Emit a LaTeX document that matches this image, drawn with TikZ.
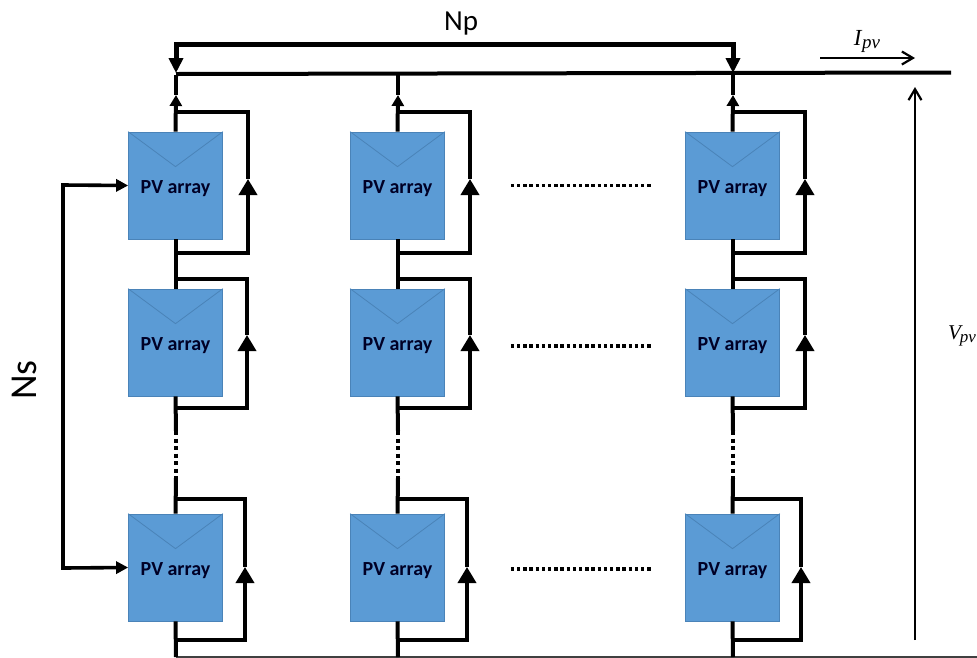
\documentclass[tikz,border=0pt]{standalone}
\usepackage{fontspec}
\setmainfont{Carlito}
\newfontfamily\mathlike{Liberation Serif}
\usetikzlibrary{arrows.meta,calc}
\definecolor{pvblue}{HTML}{5B9BD5}
\definecolor{pvedge}{HTML}{4A83B8}
\tikzset{
  pvbox/.style={draw=pvedge,line width=0.7pt,fill=pvblue,minimum width=94pt,minimum height=107pt,inner sep=0pt,font=\bfseries\fontsize{20}{22}\selectfont,text=black!85!blue,text height=20pt,text depth=5pt},
  flap/.style={draw=pvedge,line width=0.8pt},
  wire/.style={draw=black,line width=4pt},
  bypass/.style={draw=black,line width=3.6pt},
  heavy/.style={draw=black,line width=5pt},
  thinarrow/.style={draw=black,line width=2.6pt},
  dotsline/.style={draw=black,line width=4pt,dash pattern=on 4pt off 3.5pt},
  uptip/.style={-{Triangle[length=16pt,width=18pt]}},
  smalltip/.style={-{Triangle[length=11pt,width=12pt]}},
  toptip/.style={-{Triangle[length=15pt,width=14pt]}},
  sidetip/.style={-{Triangle[length=12pt,width=12pt]}},
  openarrow/.style={-{Straight Barb[length=11pt,width=13pt,line width=2.2pt]}},
  lab/.style={inner sep=0pt}
}
\begin{document}
\begin{tikzpicture}[x=1pt,y=-1pt]
\useasboundingbox (0,0) rectangle (977,657);
% buses
\coordinate (busL) at (176,74);
\coordinate (busR) at (951,72.5);
\coordinate (botL) at (176,656.5);
\coordinate (botR) at (977,656.5);
\draw[wire] (busL) -- (busR);
\draw[draw=black!75,line width=2pt] (botL) -- (botR);
% columns: name / centre x / right x row1, row2, row3
\foreach \c/\x/\ra/\rb/\rc in {A/176/248/247/245,B/398/470/470/467,C/733/805/805/801}{
  \node[pvbox] (\c1) at (\x-0.5,185.5) {PV array};
  \node[pvbox] (\c2) at (\x-0.5,342.5) {PV array};
  \node[pvbox] (\c3) at (\x-0.5,567.5) {PV array};
  \foreach \r in {1,2,3}{
    \coordinate (\c\r apex) at ($(\c\r.north)+(0,35)$);
    \draw[flap] (\c\r.north west) -- (\c\r apex) -- (\c\r.north east);
  }
  % coordinates on the string
  \coordinate (\c top) at (\x,75);
  \coordinate (\c tip) at (\x,95);
  \coordinate (\c d1) at (\x,431);
  \coordinate (\c d2) at (\x,478);
  \coordinate (\c end) at (\x,657);
  \draw[wire] (\c top) -- (\c tip);
  \draw[wire,smalltip] (\c1.north) -- (\c tip);
  \draw[wire] (\c1.south) -- (\c2.north);
  \draw[wire] (\c2.south) -- (\c d1);
  \draw[dotsline] (\c d1) -- (\c d2);
  \draw[wire] (\c d2) -- (\c3.north);
  \draw[wire] (\c3.south) -- (\c end);
  % bypass loops
  \coordinate (\c1t) at (\x,112);   \coordinate (\c1b) at (\x,253);
  \coordinate (\c2t) at (\x,279);   \coordinate (\c2b) at (\x,408);
  \coordinate (\c3t) at (\x,499);   \coordinate (\c3b) at (\x,640);
  \coordinate (\c1h) at (\ra,179);  \coordinate (\c1c) at (\ra,253);
  \coordinate (\c2h) at (\rb,335);  \coordinate (\c2c) at (\rb,408);
  \coordinate (\c3h) at (\rc,567);  \coordinate (\c3c) at (\rc,640);
  \foreach \r in {1,2,3}{
    \draw[bypass,line cap=rect] (\c\r b) -- (\c\r c);
    \draw[bypass,uptip] (\c\r c) -- (\c\r h);
    \draw[bypass,line join=miter] (\c\r h) |- (\c\r t);
  }
}
% Np bracket
\coordinate (npA) at (176,73);
\coordinate (npC) at (733,73);
\coordinate (npy) at (176,44);
\coordinate (npz) at (733,44);
\draw[heavy,toptip] (npy) -- (npA);
\draw[heavy,toptip] (npz) -- (npC);
\draw[heavy,line cap=rect] (npy) -- (npz);
\node[lab,font=\fontsize{29}{32}\selectfont] (np) at (461,24) {Np};
% Ns bracket
\coordinate (nsc1) at (63,185);
\coordinate (nsc2) at (63,568);
\draw[thinarrow,line width=3.6pt,sidetip] (nsc1) -- (A1.west);
\draw[thinarrow,line width=3.6pt,sidetip] (nsc2) -- (A3.west);
\draw[thinarrow,line width=3.6pt,line cap=rect] (nsc1) -- (nsc2);
\node[lab,rotate=90,font=\fontsize{38}{42}\selectfont] (ns) at (24,380) {Ns};
% horizontal dots
\foreach \r/\dy in {1/0,2/3.5,3/1.5}{
  \coordinate (dl\r) at ($(B\r.east)+(66,\dy)$);
  \coordinate (dr\r) at ($(C\r.west)+(-34,\dy)$);
  \draw[draw=black,line width=3.6pt,dash pattern=on 3.4pt off 2.8pt] (dl\r) -- (dr\r);
}
% Ipv, Vpv
\coordinate (iL) at (820,58);
\coordinate (iR) at (915,58);
\draw[thinarrow,openarrow] (iL) -- (iR);
\node[lab,font=\mathlike\itshape\fontsize{23}{26}\selectfont] (ipv) at (867,41) {I\kern0.5pt\raisebox{-3pt}{\fontsize{19}{22}\selectfont pv}};
\coordinate (vB) at (915,640);
\coordinate (vT) at (915,87);
\draw[thinarrow,openarrow] (vB) -- (vT);
\node[lab,font=\mathlike\itshape\fontsize{21}{24}\selectfont] (vpv) at (962,336) {V\kern-1pt\raisebox{-3pt}{\fontsize{17}{20}\selectfont pv}};
\end{tikzpicture}
\end{document}
